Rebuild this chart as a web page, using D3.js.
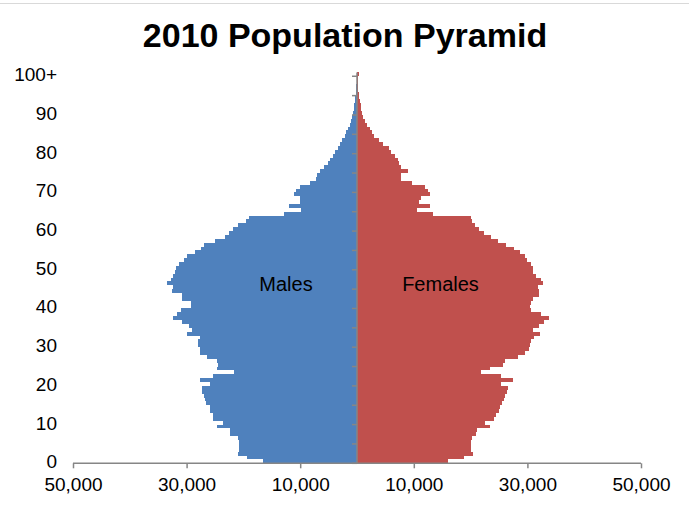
<!DOCTYPE html>
<html>
<head>
<meta charset="utf-8">
<script src="https://cdn.jsdelivr.net/npm/d3@7"></script>
<style>
  body { margin: 0; background: #fff; }
  text { font-family: "Liberation Sans", Arial, sans-serif; fill: #000; }
</style>
</head>
<body>
<script>
// Data: one value per single year of age, 0 .. 100+
var ageLabels = d3.range(0, 100).map(String).concat(["100+"]);

var males = [
  16600, 19400, 20900, 20800, 20700, 20700, 20900, 22300, 22300, 24700,
  23600, 25300, 25300, 25800, 25900, 26500, 26700, 26900, 27300, 27300,
  25900, 27700, 25300, 21700, 24700, 24400, 24600, 26400, 27600, 27600,
  28000, 28000, 27700, 29900, 29100, 29500, 30800, 32400, 31700, 31000,
  29200, 29200, 30800, 30800, 32600, 32400, 33500, 32800, 32400, 32000,
  31800, 31400, 30500, 29900, 28600, 27400, 27000, 25000, 23300, 22600,
  21900, 20900, 19600, 19100, 12900, 9800, 11900, 10000, 10100, 11100,
  10700, 10100, 8300, 7200, 7100, 6500, 5800, 5100, 4700, 4300,
  3800, 3400, 3000, 2600, 2200, 1900, 1600, 1300, 1100, 900,
  750, 600, 500, 400, 300, 220, 150, 100, 70, 50,
  80
];

var females = [
  16000, 18800, 20400, 20100, 20000, 20000, 20300, 21000, 21200, 23400,
  22500, 24200, 24400, 25000, 25200, 25600, 25800, 26100, 26400, 26600,
  25400, 27500, 25300, 21900, 23400, 25700, 26100, 28400, 29500, 30200,
  30500, 30700, 31100, 32300, 30900, 32000, 33000, 33800, 32400, 30600,
  30400, 30600, 31000, 32000, 32100, 31900, 32800, 32400, 31500, 31000,
  31000, 30600, 30000, 29600, 28700, 27600, 26300, 24800, 23600, 22400,
  21500, 20700, 20300, 20000, 13400, 10500, 12800, 10900, 11200, 12800,
  12500, 12000, 9700, 7800, 7700, 9000, 7700, 7400, 7200, 6700,
  5900, 5600, 4600, 3800, 3000, 2600, 2300, 1800, 1400, 1100,
  900, 750, 650, 500, 400, 320, 250, 200, 170, 150,
  400
];

var xTicks = [-50000, -30000, -10000, 10000, 30000, 50000];
var yLabelAges = ["0", "10", "20", "30", "40", "50", "60", "70", "80", "90", "100+"];

// Layout
var w = 689,
    h = 506;

var svg = d3.select("body")
            .append("svg")
            .attr("width", w)
            .attr("height", h);

// thin chart border at the top
svg.append("line")
   .attr("x1", 0).attr("x2", w)
   .attr("y1", 3.5).attr("y2", 3.5)
   .attr("stroke", "#d9d9d9");

// Scales
var xScale = d3.scaleLinear()
               .domain([-50000, 50000])
               .range([73, 641]);

var yScale = d3.scaleBand()
               .domain(ageLabels)
               .range([463.3, 72.4])
               .padding(0);

var bh = yScale.bandwidth();

// Title
svg.append("text")
   .attr("x", 345)
   .attr("y", 47)
   .attr("text-anchor", "middle")
   .style("font-size", "34px")
   .style("font-weight", "bold")
   .text("2010 Population Pyramid");

// Male bars (left) - crisp edges so stacked bars leave no seams
svg.selectAll("rect.male")
   .data(males)
   .enter()
   .append("rect")
   .attr("class", "male")
   .attr("x", function(d) { return xScale(-d); })
   .attr("y", function(d, i) { return yScale(ageLabels[i]); })
   .attr("width", function(d) { return xScale(0) - xScale(-d); })
   .attr("height", bh)
   .attr("fill", "#4f81bd")
   .attr("shape-rendering", "crispEdges");

// Female bars (right)
svg.selectAll("rect.female")
   .data(females)
   .enter()
   .append("rect")
   .attr("class", "female")
   .attr("x", xScale(0))
   .attr("y", function(d, i) { return yScale(ageLabels[i]); })
   .attr("width", function(d) { return xScale(d) - xScale(0); })
   .attr("height", bh)
   .attr("fill", "#c0504d")
   .attr("shape-rendering", "crispEdges");

// Vertical (age) axis line in the middle, ticks every 5 years
var axisGrey = "#868686";

svg.append("line")
   .attr("x1", xScale(0)).attr("x2", xScale(0))
   .attr("y1", yScale.range()[1]).attr("y2", yScale.range()[0])
   .attr("stroke", axisGrey)
   .attr("stroke-width", 1.5);

svg.selectAll("line.ytick")
   .data(ageLabels.filter(function(d, i) { return i % 5 === 0; }))
   .enter()
   .append("line")
   .attr("class", "ytick")
   .attr("x1", xScale(0) - 5).attr("x2", xScale(0))
   .attr("y1", function(d) { return yScale(d) + bh; })
   .attr("y2", function(d) { return yScale(d) + bh; })
   .attr("stroke", axisGrey)
   .attr("stroke-width", 1.5);

// Age labels sit at the left edge ("low" position)
svg.selectAll("text.ylab")
   .data(yLabelAges)
   .enter()
   .append("text")
   .attr("class", "ylab")
   .attr("x", 57)
   .attr("y", function(d) { return yScale(d) + bh / 2; })
   .attr("dy", "0.36em")
   .attr("text-anchor", "end")
   .style("font-size", "19px")
   .text(function(d) { return d; });

// Bottom axis, labels shown as absolute values
var xAxis = d3.axisBottom(xScale)
              .tickValues(xTicks)
              .tickSize(5)
              .tickPadding(9)
              .tickFormat(function(d) { return d3.format(",")(Math.abs(d)); });

var gx = svg.append("g")
            .attr("class", "x axis")
            .attr("transform", "translate(0," + yScale.range()[0] + ")")
            .call(xAxis);

gx.select(".domain")
  .attr("stroke", axisGrey)
  .attr("stroke-width", 1.5)
  .attr("d", "M" + xScale.range()[0] + ",0H" + xScale.range()[1]);
gx.selectAll(".tick line")
  .attr("stroke", axisGrey)
  .attr("stroke-width", 1.5);
gx.selectAll(".tick text")
  .style("font-family", "'Liberation Sans', Arial, sans-serif")
  .style("font-size", "19px")
  .attr("fill", "#000");

// Series labels inside the bars
svg.append("text")
   .attr("x", xScale(-12500))
   .attr("y", yScale("46") + bh / 2)
   .attr("dy", "0.36em")
   .attr("text-anchor", "middle")
   .style("font-size", "20px")
   .text("Males");

svg.append("text")
   .attr("x", xScale(14700))
   .attr("y", yScale("46") + bh / 2)
   .attr("dy", "0.36em")
   .attr("text-anchor", "middle")
   .style("font-size", "20px")
   .text("Females");
</script>
</body>
</html>
